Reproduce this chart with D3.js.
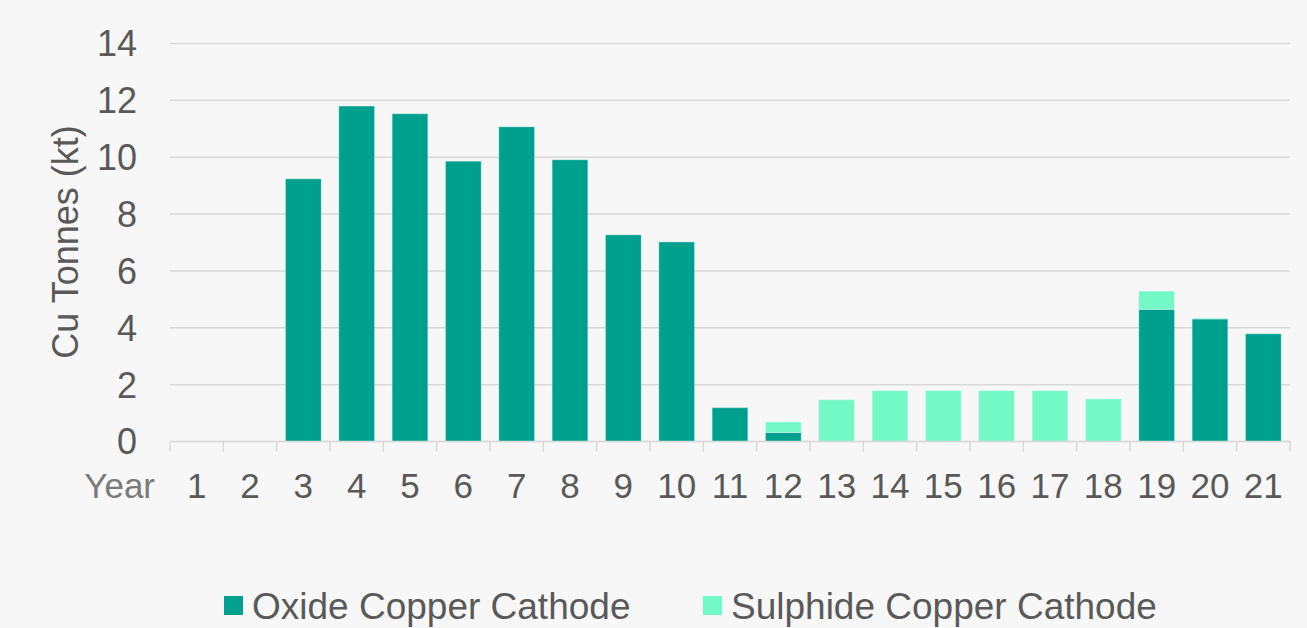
<!DOCTYPE html>
<html lang="en">
<head>
  <meta charset="UTF-8">
  <title>Cu Tonnes by Year</title>
  <style>
    html, body {
      margin: 0;
      padding: 0;
      background: #f7f7f7;
    }
    body {
      font-family: "Liberation Sans", Arial, sans-serif;
    }
  </style>
  <script src="https://d3js.org/d3.v7.min.js"></script>
</head>
<body>
  <div id="chart"></div>

  <script>
    const years = [1, 2, 3, 4, 5, 6, 7, 8, 9, 10, 11, 12, 13, 14, 15, 16, 17, 18, 19, 20, 21];
    const oxide = [0, 0, 9.24, 11.8, 11.53, 9.86, 11.07, 9.91, 7.27, 7.02, 1.19, 0.32, 0, 0, 0, 0, 0, 0, 4.65, 4.31, 3.79];
    const sulphide = [0, 0, 0, 0, 0, 0, 0, 0, 0, 0, 0, 0.37, 1.47, 1.79, 1.79, 1.79, 1.79, 1.5, 0.64, 0.03, 0];
    const seriesNames = ["Oxide Copper Cathode", "Sulphide Copper Cathode"];
    const yTicks = [0, 2, 4, 6, 8, 10, 12, 14];

    const width = 1307;
    const height = 628;
    const colors = ["#00a08e", "#73f8c8"];
    const textColor = "#595959";
    const gridColor = "#d9d9d9";

    const rows = years.map((y, i) => ({ year: y, oxide: oxide[i], sulphide: sulphide[i] }));
    const stack = d3.stack().keys(["oxide", "sulphide"]);
    const series = stack(rows);

    const x = d3.scaleBand()
        .domain(years)
        .range([170, 1290])
        .paddingInner(0.33)
        .paddingOuter(0.165);

    const y = d3.scaleLinear()
        .domain([0, 14])
        .range([441.5, 43.5]);

    const svg = d3.create("svg")
        .attr("width", width)
        .attr("height", height)
        .style("display", "block")
        .style("background", "#f7f7f7");

    // gridlines
    svg.append("g")
      .selectAll("line")
      .data(yTicks)
      .join("line")
        .attr("x1", 170)
        .attr("x2", 1290)
        .attr("y1", d => y(d))
        .attr("y2", d => y(d))
        .attr("stroke", gridColor)
        .attr("stroke-width", 1.5);

    // y tick labels
    svg.append("g")
      .selectAll("text")
      .data(yTicks)
      .join("text")
        .attr("x", 137)
        .attr("y", d => y(d))
        .attr("dy", "0.36em")
        .attr("text-anchor", "end")
        .attr("fill", textColor)
        .style("font-size", "36px")
        .text(d => d);

    // bars
    svg.append("g")
      .selectAll("g")
      .data(series)
      .join("g")
        .attr("fill", (d, i) => colors[i])
      .selectAll("rect")
      .data(d => d.filter(s => s[1] - s[0] > 0))
      .join("rect")
        .attr("x", d => x(d.data.year))
        .attr("width", x.bandwidth())
        .attr("y", d => y(d[1]))
        .attr("height", d => y(d[0]) - y(d[1]))
        .attr("stroke", "#ffffff")
        .attr("stroke-opacity", 0.35)
        .attr("stroke-width", 1);

    // x axis line and band ticks
    const step = x.step();
    const bounds = d3.range(years.length + 1).map(i => 170 + i * step);
    svg.append("line")
        .attr("x1", 170)
        .attr("x2", 1290)
        .attr("y1", y(0))
        .attr("y2", y(0))
        .attr("stroke", gridColor)
        .attr("stroke-width", 1.5);
    svg.append("g")
      .selectAll("line")
      .data(bounds)
      .join("line")
        .attr("x1", d => d)
        .attr("x2", d => d)
        .attr("y1", y(0))
        .attr("y2", y(0) + 10)
        .attr("stroke", gridColor)
        .attr("stroke-width", 1.5);

    // x tick labels
    svg.append("g")
      .selectAll("text")
      .data(years)
      .join("text")
        .attr("x", d => x(d) + x.bandwidth() / 2)
        .attr("y", 498)
        .attr("text-anchor", "middle")
        .attr("fill", textColor)
        .style("font-size", "35px")
        .text(d => d);

    svg.append("text")
        .attr("x", 155)
        .attr("y", 498)
        .attr("text-anchor", "end")
        .attr("fill", "#7a7a7a")
        .style("font-size", "35px")
        .text("Year");

    // y axis title
    svg.append("text")
        .attr("transform", "translate(78,242) rotate(-90)")
        .attr("text-anchor", "middle")
        .attr("fill", textColor)
        .style("font-size", "36px")
        .text("Cu Tonnes (kt)");

    // legend
    const legendX = [224, 703];
    const legend = svg.append("g")
      .selectAll("g")
      .data(seriesNames)
      .join("g")
        .attr("transform", (d, i) => `translate(${legendX[i]},596)`);
    legend.append("rect")
        .attr("width", 19)
        .attr("height", 19)
        .attr("fill", (d, i) => colors[i]);
    legend.append("text")
        .attr("x", 28)
        .attr("y", 9.5)
        .attr("dy", "0.36em")
        .attr("fill", textColor)
        .style("font-size", "37px")
        .text(d => d);

    document.getElementById("chart").appendChild(svg.node());
  </script>
</body>
</html>
